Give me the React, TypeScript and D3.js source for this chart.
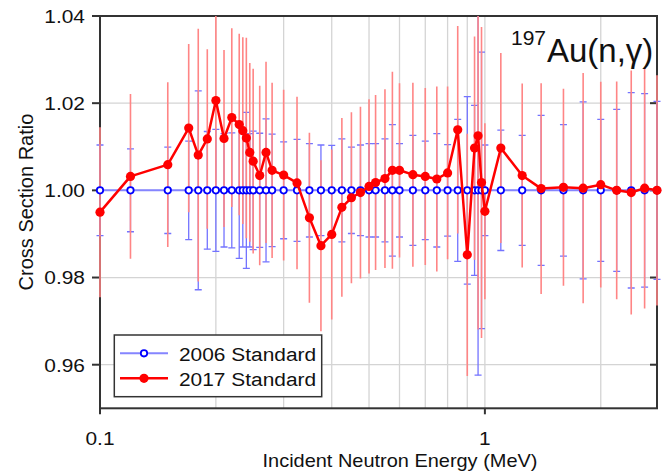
import React from "react";
import * as d3 from "d3";

const energies = [0.1, 0.12, 0.15, 0.17, 0.18, 0.19, 0.2, 0.21, 0.22, 0.23, 0.235, 0.24, 0.245, 0.25, 0.26, 0.27, 0.28, 0.3, 0.325, 0.35, 0.375, 0.4, 0.425, 0.45, 0.475, 0.5, 0.52, 0.55, 0.575, 0.6, 0.65, 0.7, 0.75, 0.8, 0.85, 0.9, 0.94, 0.96, 0.98, 1.0, 1.1, 1.25, 1.4, 1.6, 1.8, 2.0, 2.2, 2.4, 2.6, 2.8];
const std2006 = energies.map(() => 1.0);
const err2006 = [0.0104, 0.0095, 0.0099, 0.0113, 0.0228, 0.0135, 0.0140, 0.0130, 0.0132, 0.0156, 0.0130, 0.0179, 0.0130, 0.0136, 0.0131, 0.0164, 0.0129, 0.0111, 0.0117, 0.0107, 0.0104, 0.0103, 0.0118, 0.0099, 0.0104, 0.0107, 0.0107, 0.0118, 0.0151, 0.0107, 0.0126, 0.0113, 0.0130, 0.0105, 0.0163, 0.0215, 0.0195, 0.0424, 0.0317, 0.0104, 0.0138, 0.0126, 0.0172, 0.0151, 0.0203, 0.0163, 0.0186, 0.0224, 0.0222, 0.0204];
const std2017 = [0.995, 1.0032, 1.0059, 1.0143, 1.0081, 1.0118, 1.0206, 1.0119, 1.0167, 1.0151, 1.0137, 1.012, 1.0087, 1.0067, 1.0034, 1.0087, 1.0046, 1.0035, 1.0017, 0.9937, 0.9873, 0.9899, 0.9961, 0.9983, 0.9995, 1.0009, 1.0018, 1.0027, 1.0046, 1.0046, 1.0036, 1.0032, 1.0026, 1.004, 1.0139, 0.9852, 1.0097, 1.0125, 1.0018, 0.9952, 1.0097, 1.0034, 1.0004, 1.0007, 1.0005, 1.0013, 1.0, 0.9995, 1.0005, 1.0];
const err2017 = [0.0195, 0.0189, 0.0189, 0.0193, 0.029, 0.0206, 0.0215, 0.0203, 0.0205, 0.0208, 0.0214, 0.023, 0.0205, 0.0212, 0.0206, 0.0208, 0.0201, 0.0196, 0.0198, 0.0195, 0.0196, 0.0195, 0.0205, 0.0196, 0.0197, 0.02, 0.0201, 0.0205, 0.0226, 0.02, 0.0211, 0.0203, 0.0212, 0.0198, 0.0238, 0.0278, 0.0256, 0.0444, 0.0357, 0.0202, 0.0218, 0.0211, 0.0242, 0.0226, 0.0264, 0.0236, 0.025, 0.028, 0.0276, 0.0264];

const yTicks = [0.96, 0.98, 1.0, 1.02, 1.04];
const yTickLabels = ["0.96", "0.98", "1.00", "1.02", "1.04"];
const xTicks = [0.1, 1];
const xTickLabels = ["0.1", "1"];
const xGrid = [0.2, 0.3, 0.4, 0.5, 0.6, 0.7, 0.8, 0.9, 1, 2];
const yGrid = [0.96, 0.98, 1.0, 1.02];
const seriesNames = ["2006 Standard", "2017 Standard"];
const xTitle = "Incident Neutron Energy (MeV)";
const yTitle = "Cross Section Ratio";

const W = 672, H = 471;
const L = 100, R = 657, T = 16, B = 408.3;
const FONT = "'Liberation Sans', Arial, Helvetica, sans-serif";
const SX = 1.1;

function T2({ x, y, sx = SX, anchor = "start", size = 19, children }: any) {
  return (
    <text transform={`translate(${x},${y}) scale(${sx},1)`} textAnchor={anchor} fontSize={size} fontFamily={FONT} fill="#111">
      {children}
    </text>
  );
}

export default function App() {
  const x = d3.scaleLog().domain([0.1, 2.8]).range([L, R]);
  const y = d3.scaleLinear().domain([0.95, 1.04]).range([B, T]);
  const pts2006 = energies.map((e, i) => [x(e), y(std2006[i])] as [number, number]);
  const pts2017 = energies.map((e, i) => [x(e), y(std2017[i])] as [number, number]);
  const line = d3.line();
  const cap = 3.5;

  return (
    <svg width={W} height={H} style={{ position: "fixed", left: 0, top: 0, background: "#fff" }}>
      <defs>
        <clipPath id="plotclip">
          <rect x={0} y={T} width={W} height={B - T} />
        </clipPath>
      </defs>
      <rect x={0} y={0} width={W} height={H} fill="#fff" />
      {/* gridlines */}
      {xGrid.map((g) => (
        <line key={"xg" + g} x1={x(g)} x2={x(g)} y1={T} y2={B} stroke="#d4d4d4" strokeWidth={1.3} />
      ))}
      {yGrid.map((g) => (
        <line key={"yg" + g} x1={L} x2={R} y1={y(g)} y2={y(g)} stroke="#d4d4d4" strokeWidth={1.3} />
      ))}
      {/* frame */}
      <rect x={L} y={T} width={R - L} height={B - T} fill="none" stroke="#333" strokeWidth={2} />
      {yTicks.map((t) => (
        <g key={"yt" + t}>
          <line x1={L - 8} x2={L} y1={y(t)} y2={y(t)} stroke="#333" strokeWidth={2} />
          <line x1={R - 7} x2={R} y1={y(t)} y2={y(t)} stroke="#333" strokeWidth={2} />
        </g>
      ))}
      {xTicks.map((t) => (
        <line key={"xt" + t} x1={x(t)} x2={x(t)} y1={B} y2={B + 6} stroke="#333" strokeWidth={2} />
      ))}
      {/* error bars */}
      <g clipPath="url(#plotclip)">
        {energies.map((e, i) => {
          const cx = x(e);
          const y1 = y(std2006[i] + err2006[i]);
          const y2 = y(std2006[i] - err2006[i]);
          return (
            <g key={"be" + i} stroke="#7373ff" strokeWidth={1.3}>
              <line x1={cx} x2={cx} y1={y1} y2={y2} />
              <line x1={cx - cap} x2={cx + cap} y1={y1} y2={y1} />
              <line x1={cx - cap} x2={cx + cap} y1={y2} y2={y2} />
            </g>
          );
        })}
        {energies.map((e, i) => {
          const cx = x(e);
          return (
            <line key={"re" + i} x1={cx} x2={cx} y1={y(std2017[i] + err2017[i])} y2={y(std2017[i] - err2017[i])} stroke="#ff8585" strokeWidth={1.6} />
          );
        })}
      </g>
      {/* 2006 series */}
      <path d={line(pts2006) || ""} fill="none" stroke="#8585ff" strokeWidth={2} />
      {pts2006.map((p, i) => (
        <circle key={"bc" + i} cx={p[0]} cy={p[1]} r={3.2} fill="#fff" stroke="#0000ff" strokeWidth={1.8} />
      ))}
      {/* 2017 series */}
      <path d={line(pts2017) || ""} fill="none" stroke="#ff0000" strokeWidth={2.5} strokeLinejoin="round" />
      {pts2017.map((p, i) => (
        <circle key={"rc" + i} cx={p[0]} cy={p[1]} r={4.6} fill="#ff0000" />
      ))}
      {/* axis labels */}
      {yTicks.map((t, i) => (
        <T2 key={"yl" + t} x={85} y={y(t) + 6.8} anchor="end">{yTickLabels[i]}</T2>
      ))}
      {xTicks.map((t, i) => (
        <T2 key={"xl" + t} x={x(t)} y={445} anchor="middle">{xTickLabels[i]}</T2>
      ))}
      <T2 x={400} y={467} sx={1.05} anchor="middle">{xTitle}</T2>
      <text transform={`translate(33,202) rotate(-90)`} textAnchor="middle" fontSize={20} fontFamily={FONT} fill="#111">{yTitle}</text>
      {/* reaction title */}
      <text x={511} y={45} fontSize={21} fontFamily={FONT} fill="#111">197</text>
      <text x={547} y={62} fontSize={33} fontFamily={FONT} fill="#111">Au(n,γ)</text>
      {/* legend */}
      <rect x={114.3} y={335} width={207.4} height={61.7} fill="#fff" stroke="#333" strokeWidth={1.5} />
      <line x1={120} x2={168} y1={353.3} y2={353.3} stroke="#8585ff" strokeWidth={2} />
      <circle cx={144} cy={353.3} r={3.2} fill="#fff" stroke="#0000ff" strokeWidth={1.8} />
      <line x1={120} x2={168} y1={378.3} y2={378.3} stroke="#ff0000" strokeWidth={2.5} />
      <circle cx={144} cy={378.3} r={4.6} fill="#ff0000" />
      <T2 x={179} y={360.5}>{seriesNames[0]}</T2>
      <T2 x={179} y={385.8}>{seriesNames[1]}</T2>
    </svg>
  );
}
